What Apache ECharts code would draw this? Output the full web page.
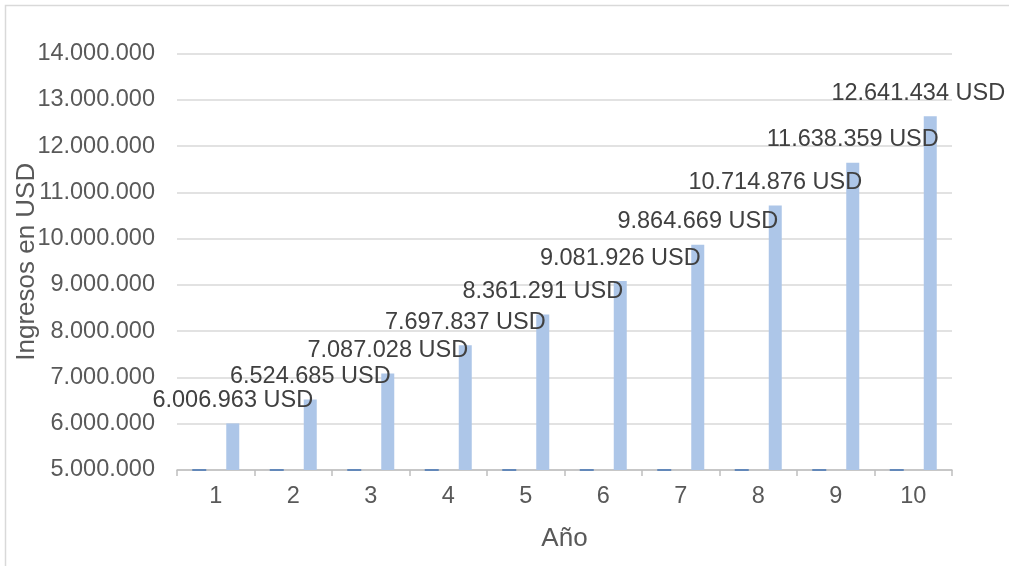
<!DOCTYPE html>
<html>
<head>
<meta charset="utf-8">
<script src="https://cdn.jsdelivr.net/npm/echarts@6/dist/echarts.min.js"></script>
<style>
  html, body { margin: 0; padding: 0; background: #ffffff; }
  #chart { width: 1009px; height: 566px; }
</style>
</head>
<body>
<div id="chart"></div>
<script>
// Años del horizonte de proyección
const anios = [1, 2, 3, 4, 5, 6, 7, 8, 9, 10];
// Ingresos proyectados por año (USD)
const ingresos = [6006963, 6524685, 7087028, 7697837, 8361291, 9081926, 9864669, 10714876, 11638359, 12641434];
// Escala del eje de ingresos
const yMin = 5000000;
const yMax = 14000000;
const yStep = 1000000;

const FONT = '"Liberation Sans", Arial, sans-serif';

// Separador de miles con punto
function miles(v) {
  return String(Math.round(v)).replace(/\B(?=(\d{3})+(?!\d))/g, '.');
}

const chart = echarts.init(document.getElementById('chart'), null, { renderer: 'canvas' });

chart.setOption({
  backgroundColor: '#ffffff',
  animation: false,
  textStyle: { fontFamily: FONT },
  graphic: [{
    type: 'rect',
    shape: { x: 5.5, y: 5.5, width: 1200, height: 1000 },
    style: { fill: 'none', stroke: '#d9d9d9', lineWidth: 1.5 },
    silent: true
  }],
  grid: { left: 177, right: 57, top: 53.5, bottom: 96, containLabel: false, outerBoundsMode: 'none' },
  xAxis: {
    type: 'category',
    data: anios.map(String),
    name: 'Año',
    nameLocation: 'middle',
    nameGap: 56,
    nameMoveOverlap: false,
    nameTextStyle: { color: '#595959', fontSize: 26, fontFamily: FONT },
    axisLine: { lineStyle: { color: '#bfbfbf', width: 1.5 } },
    axisTick: { show: true, length: 6, lineStyle: { color: '#bfbfbf', width: 1.5 } },
    axisLabel: { color: '#595959', fontSize: 23.5, margin: 15, fontFamily: FONT },
    splitLine: { show: false }
  },
  yAxis: {
    type: 'value',
    min: yMin,
    max: yMax,
    interval: yStep,
    name: 'Ingresos en USD',
    nameLocation: 'middle',
    nameGap: 137,
    nameRotate: 90,
    nameMoveOverlap: false,
    nameTextStyle: { color: '#595959', fontSize: 26, fontFamily: FONT },
    axisLine: { show: false },
    axisTick: { show: false },
    axisLabel: { color: '#595959', fontSize: 23.5, margin: 22, fontFamily: FONT, formatter: v => miles(v) },
    splitLine: { lineStyle: { color: '#d9d9d9', width: 1.5 } }
  },
  series: [
    {
      // Serie de años: sus valores quedan bajo el mínimo del eje, así que la barra queda recortada
      name: 'Año',
      type: 'bar',
      data: anios,
      barWidth: 14,
      barGap: '143%',
      clip: true,
      itemStyle: { color: '#4a78b5' },
      z: 3
    },
    {
      name: 'Ingresos',
      type: 'bar',
      data: ingresos.map((v, i) => i === ingresos.length - 1
        ? { value: v, label: { offset: [-12, 0] } }
        : v),
      barWidth: 13,
      itemStyle: { color: '#adc6e8' },
      label: {
        show: true,
        position: 'top',
        distance: 11,
        color: '#404040',
        fontSize: 23.5,
        fontFamily: FONT,
        formatter: p => miles(p.value) + ' USD'
      },
      z: 2
    },
    {
      // Trazo de la serie de años sobre la base del eje
      name: 'Año (base)',
      type: 'scatter',
      data: anios.map((v, i) => [i, Math.max(v, yMin)]),
      symbol: 'rect',
      symbolSize: [14, 2],
      symbolOffset: [-16.5, 0],
      itemStyle: { color: '#4a78b5' },
      clip: false,
      silent: true,
      z: 4
    }
  ]
});
</script>
</body>
</html>
